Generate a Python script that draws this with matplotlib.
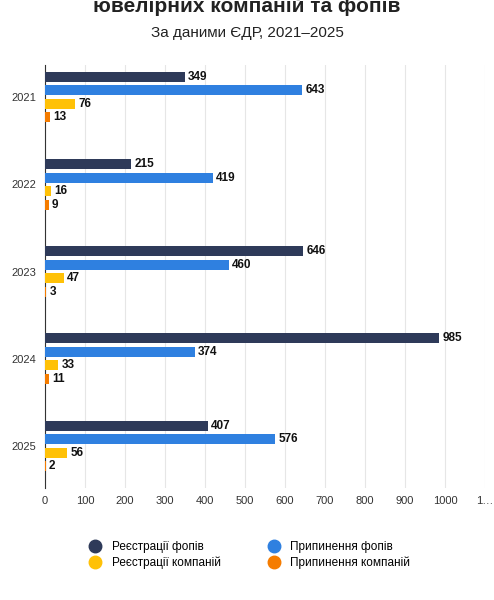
import matplotlib.pyplot as plt
from matplotlib.lines import Line2D
import numpy as np

# --- Data ---
years = ['2021', '2022', '2023', '2024', '2025']
reg_fop = [349, 215, 646, 985, 407]
stop_fop = [643, 419, 460, 374, 576]
reg_comp = [76, 16, 47, 33, 56]
stop_comp = [13, 9, 3, 11, 2]
series_names = ['Реєстрації фопів', 'Припинення фопів', 'Реєстрації компаній', 'Припинення компаній']
colors = ['#2e3a59', '#2f80e0', '#ffc107', '#f57c00']
xticks = [0, 100, 200, 300, 400, 500, 600, 700, 800, 900, 1000, 1100]
xtick_labels = ['0', '100', '200', '300', '400', '500', '600', '700', '800', '900', '1000', '1…']

plt.rcParams['font.family'] = ['Liberation Sans', 'DejaVu Sans']

fig = plt.figure(figsize=(4.94, 6), dpi=100)
ax = fig.add_axes([0.091, 0.187, 0.891, 0.705])

series = [reg_fop, stop_fop, reg_comp, stop_comp]
step = 0.155
h = 0.115
y = np.arange(len(years))
for i, (vals, c) in enumerate(zip(series, colors)):
    pos = y + (i - 1.5) * step
    ax.barh(pos, vals, height=h, color=c, zorder=3)
    for p, v in zip(pos, vals):
        ax.text(v + 8, p, str(v), va='center', ha='left', fontsize=8.5, fontweight='bold', color='#111')

ax.set_ylim(4.48, -0.37)
ax.set_yticks(y)
ax.set_yticklabels(years, fontsize=8, color='#333')
ax.set_xlim(0, 1100)
ax.set_xticks(xticks)
ax.set_xticklabels(xtick_labels, fontsize=8, color='#333')
ax.grid(axis='x', color='#e6e6e6', lw=0.8, zorder=0)
for s in ['top', 'right', 'bottom']:
    ax.spines[s].set_visible(False)
ax.spines['left'].set_color('#333')
ax.tick_params(length=0, pad=6)

fig.text(0.5, 0.99, 'ювелірних компаній та фопів', ha='center', va='center',
         fontsize=15, fontweight='bold', color='#222')
fig.text(0.5, 0.945, 'За даними ЄДР, 2021–2025', ha='center', va='center',
         fontsize=11, color='#222')

# legend fills column-wise, so order handles to get rows: fop pair, company pair
order = [0, 2, 1, 3]
handles = [Line2D([], [], marker='o', ls='', markersize=9, color=colors[k]) for k in order]
fig.legend(handles, [series_names[k] for k in order], loc='center', bbox_to_anchor=(0.5, 0.075), ncol=2,
           frameon=False, fontsize=8.5, handletextpad=0.4, columnspacing=3.5,
           labelspacing=0.3)

fig.savefig('out.png', dpi=100)
